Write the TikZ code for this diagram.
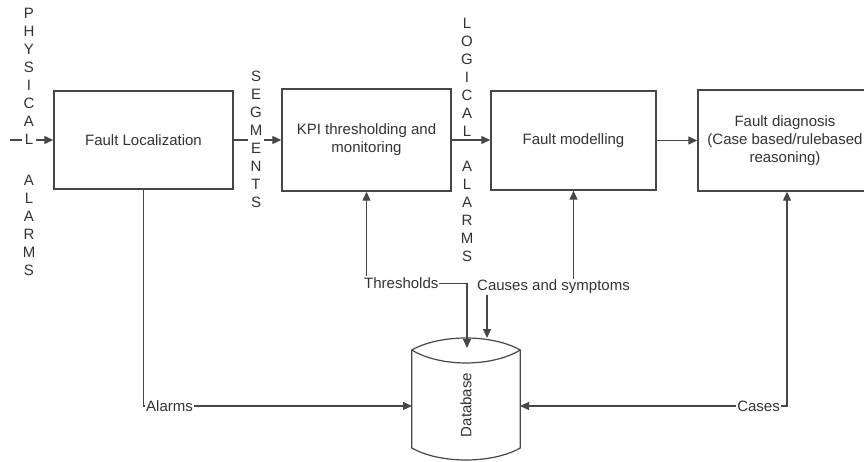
\documentclass[tikz,border=0pt]{standalone}
\usepackage{fontspec}
\setmainfont{Liberation Sans}
\usetikzlibrary{arrows.meta,backgrounds}
\definecolor{txt}{HTML}{333333}
\definecolor{ln}{HTML}{474747}
\begin{document}
\begin{tikzpicture}[x=1pt,y=-1pt,
  txtfont/.style={font=\fontsize{15}{18}\selectfont, text=txt},
  box/.style={draw=ln, line width=1.4pt, fill=white, align=center, txtfont},
  lab/.style={fill=white, inner sep=1pt, txtfont},
  vlab/.style={fill=white, inner sep=1.5pt, align=center, txtfont},
  conn/.style={draw=ln, line width=1.2pt, -{Triangle[length=9pt,width=8pt]}},
  conn2/.style={draw=ln, line width=1.2pt, {Triangle[length=9pt,width=8pt]}-{Triangle[length=9pt,width=8pt]}}]
\useasboundingbox (0,0) rectangle (864,462);
\clip (0,0) rectangle (864,462);

% boxes
\node[box, minimum width=179pt, minimum height=98pt] (FL) at (143.5,140) {Fault Localization};
\node[box, minimum width=169pt, minimum height=102pt] (KPI) at (366.5,140) {KPI thresholding and\\monitoring};
\node[box, minimum width=165pt, minimum height=99pt] (FM) at (573.5,140.5) {Fault modelling};
\node[box, minimum width=174pt, minimum height=101pt] (FD) at (785,140.5) {Fault diagnosis\\(Case based/rulebased\\reasoning)};

% database frame
\node[minimum width=108pt, minimum height=122pt, inner sep=0pt] (DB) at (466,399) {};
\node[rotate=90, txtfont, inner sep=0pt] (DBt) at (466,405) {Database};

% labels
\node[vlab] (pl1) at (29,76.5) {P\\H\\Y\\S\\I\\C\\A\\L};
\node[vlab] (pl2) at (29,225) {A\\L\\A\\R\\M\\S};
\node[vlab] (seg) at (256,139) {S\\E\\G\\M\\E\\N\\T\\S};
\node[vlab] (lg1) at (467,77) {L\\O\\G\\I\\C\\A\\L};
\node[vlab] (lg2) at (467,211.5) {A\\L\\A\\R\\M\\S};
\node[lab, anchor=west] (thr) at (363,283) {Thresholds};
\node[lab] (cs) at (553.5,287) {Causes and symptoms};
\node[lab, anchor=west] (alm) at (145,406) {Alarms};
\node[lab, anchor=east] (cas) at (781,406) {Cases};

\coordinate (pa) at (10,140);
\coordinate (dbL) at (412,406);
\coordinate (dbR) at (520,406);
\coordinate (thT) at (467,348);
\coordinate (csT) at (487,338);

\begin{pgfonlayer}{background}
% database outline
\draw[ln, line width=1.2pt, fill=white]
  (DB.west |- 0,350) .. controls (440,334) and (492,334) .. (DB.east |- 0,350)
  -- (DB.east |- 0,448) .. controls (492,464) and (440,464) .. (DB.west |- 0,448) -- cycle;
\draw[ln, line width=1.2pt]
  (DB.west |- 0,350) .. controls (440,367.3) and (492,367.3) .. (DB.east |- 0,350);
% connectors
\draw[conn] (pa) -- (FL.west);
\draw[conn] (FL.east) -- (KPI.west);
\draw[conn] (KPI.east) -- (KPI.east -| FM.west);
\draw[conn] (FM.east) -- (FM.east -| FD.west);
\draw[conn] (FL.south) |- (dbL);
\draw[conn2] (dbR) -| ([xshift=2pt]FD.south);
\draw[conn2] (KPI.south) -- ++(0,92) -| (thT);
\draw[conn] (cs.north -| FM.south) -- (FM.south);
\draw[conn] (cs.south -| csT) -- (csT);
\end{pgfonlayer}
\end{tikzpicture}
\end{document}
